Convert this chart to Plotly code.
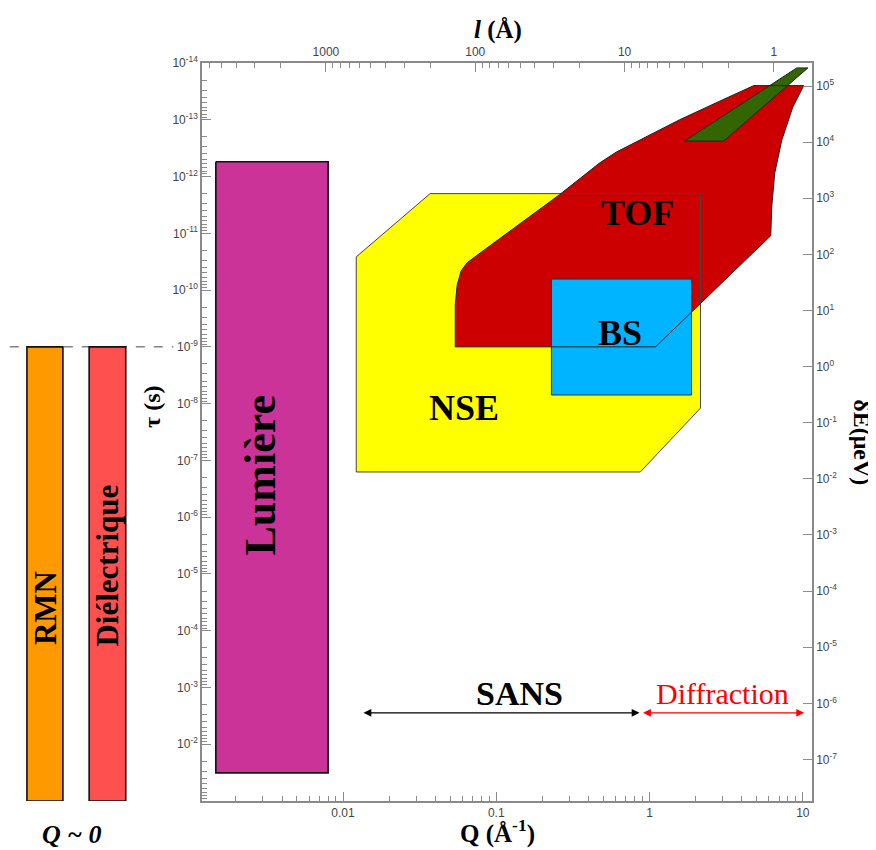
import numpy as np
import plotly.graph_objects as go

# ---------------- axis ticks ----------------
q_ticks = [0.01, 0.1, 1, 10]
q_tick_labels = ["0.01", "0.1", "1", "10"]
tau_exponents = list(range(-14, -1))
tau_ticks = [10.0 ** k for k in tau_exponents]
tau_tick_labels = [f"10<sup>{k}</sup>" for k in tau_exponents]
l_ticks = [1000, 100, 10, 1]
l_tick_labels = ["1000", "100", "10", "1"]
dE_exponents = list(range(-7, 6))
dE_ticks = [10.0 ** k for k in dE_exponents]
dE_tick_labels = [f"10<sup>{k}</sup>" for k in dE_exponents]

# ---------------- technique domains (Q in 1/Å, tau in s) ----------------
lumiere_q = [0.00148, 0.0080]
lumiere_tau = [5.5e-13, 3.2e-2]

nse_q = [0.0122, 0.037, 2.15, 2.15, 0.87, 0.0122]
nse_tau = [2.6e-11, 2.0e-12, 2.0e-12, 1.2e-8, 1.6e-7, 1.6e-7]

tof_q = [0.054, 0.054, 0.0556, 0.059, 0.0646, 0.074, 0.258, 0.471, 0.608,
         0.861, 1.57, 2.87, 4.79, 10.15, 8.6, 7.29, 6.56, 6.27, 6.18, 1.094]
tof_tau = [1.0e-9, 1.83e-10, 8.15e-11, 4.6e-11, 3.3e-11, 2.5e-11, 2.1e-12, 5.8e-13, 3.7e-13,
           2.3e-13, 1.0e-13, 4.7e-14, 2.5e-14, 2.5e-14, 6.0e-14, 2.3e-13, 8.7e-13, 3.4e-12, 1.1e-11, 1.0e-9]

green_q = [1.69, 3.05, 10.8, 9.14]
green_tau = [2.37e-13, 2.37e-13, 1.22e-14, 1.22e-14]

bs_q = [0.229, 1.88]
bs_tau = [6.4e-11, 7.05e-9]

# Q ~ 0 techniques
qzero_labels = ["RMN", "Diélectrique"]
qzero_tau_min = [1e-9, 1e-9]
qzero_tau_max = [1e-1, 1e-1]
qzero_colors = ["#FF9900", "#FF5050"]

# range arrows
sans_q = [0.0133, 0.86]
diffraction_q = [0.887, 10.2]
arrow_tau = 2.8e-3

# ---------------- figure ----------------
fig = go.Figure()


def rect(q, t):
    return [q[0], q[1], q[1], q[0], q[0]], [t[0], t[0], t[1], t[1], t[0]]


def closed(q, t):
    return list(q) + [q[0]], list(t) + [t[0]]


def fill_trace(x, y, color, line_color=None, width=0):
    return go.Scatter(x=x, y=y, mode="lines", fill="toself", fillcolor=color,
                      line=dict(color=line_color or color, width=width),
                      hoverinfo="skip", showlegend=False)


def outline(x, y, color="#333333", width=1):
    return go.Scatter(x=x, y=y, mode="lines", line=dict(color=color, width=width),
                      hoverinfo="skip", showlegend=False)


lx, ly = rect(lumiere_q, lumiere_tau)
fig.add_trace(fill_trace(lx, ly, "#CC3399", "#111111", 1.6))

nx, ny = closed(nse_q, nse_tau)
tx, ty = closed(tof_q, tof_tau)
gx, gy = closed(green_q, green_tau)
bx, by = rect(bs_q, bs_tau)

fig.add_trace(fill_trace(nx, ny, "#FFFF00"))
fig.add_trace(fill_trace(tx, ty, "#CC0000"))
fig.add_trace(fill_trace(gx, gy, "#336600"))
fig.add_trace(fill_trace(bx, by, "#00B4FF"))
fig.add_trace(outline(nx, ny, "#444444", 1))
fig.add_trace(outline(tx, ty, "#222222", 1))
fig.add_trace(outline(gx, gy, "#222222", 1))
fig.add_trace(outline(bx, by, "#333333", 1))

# dummy trace to activate the secondary axes
fig.add_trace(go.Scatter(x=[10], y=[1], xaxis="x2", yaxis="y2", mode="markers",
                         marker=dict(size=1, opacity=0), hoverinfo="skip", showlegend=False))

# Q ~ 0 bars (outside the Q axis)
bar_x = [(-0.287, -0.228), (-0.185, -0.125)]
shapes = []
for (x0, x1), t0, t1, col in zip(bar_x, qzero_tau_min, qzero_tau_max, qzero_colors):
    shapes.append(dict(type="rect", xref="paper", yref="y", x0=x0, x1=x1, y0=t0, y1=t1,
                       fillcolor=col, line=dict(color="#111111", width=1.6), layer="above"))
shapes.append(dict(type="line", xref="paper", yref="y", x0=-0.315, x1=-0.047,
                   y0=qzero_tau_min[0], y1=qzero_tau_min[0],
                   line=dict(color="#444444", width=1, dash="dash"), layer="below"))

serif = "Liberation Serif"
annotations = []


def data_text(text, q, t, size=36, color="black", bold=True, angle=0):
    annotations.append(dict(x=np.log10(q), y=np.log10(t), xref="x", yref="y",
                            xanchor="center", yanchor="middle",
                            text=(f"<b>{text}</b>" if bold else text), showarrow=False,
                            textangle=angle, font=dict(family=serif, size=size, color=color)))


data_text("TOF", 0.83, 4.4e-12)
data_text("BS", 0.64, 5.7e-10)
data_text("NSE", 0.062, 1.2e-8)
data_text("Lumière", 0.0029, 1.8e-7, size=44, angle=-90)
data_text("SANS", 0.141, 1.26e-3, size=34)
data_text("Diffraction", 3.0, 1.3e-3, size=30, color="#FF0000", bold=False)

# rotated labels for Q ~ 0 bars
for (x0, x1), lab, yc in zip(bar_x, qzero_labels, [4.0e-5, 7.0e-6]):
    annotations.append(dict(x=(x0 + x1) / 2, y=np.log10(yc), xref="paper", yref="y",
                            xanchor="center", yanchor="middle",
                            text=f"<b>{lab}</b>", showarrow=False, textangle=-90,
                            font=dict(family=serif, size=31, color="black")))

# range arrows
for qr, col in [(sans_q, "#000000"), (diffraction_q, "#FF0000")]:
    annotations.append(dict(x=np.log10(qr[1]), y=np.log10(arrow_tau), ax=np.log10(qr[0]),
                            ay=np.log10(arrow_tau), xref="x", yref="y", axref="x", ayref="y",
                            text="", showarrow=True, arrowhead=2, startarrowhead=2,
                            arrowside="end+start", arrowsize=1.2, startarrowsize=1.2,
                            arrowwidth=1.3, arrowcolor=col, standoff=0, startstandoff=0))


def paper_text(text, x, y, size, angle=0):
    annotations.append(dict(x=x, y=y, xref="paper", yref="paper", xanchor="center",
                            yanchor="middle", text=text, textangle=angle, showarrow=False,
                            font=dict(family=serif, size=size, color="black")))


# axis titles
paper_text("<b>Q (Å<sup>-1</sup>)</b>", 0.485, -0.042, 25)
paper_text("<b><i>l</i> (Å)</b>", 0.485, 1.045, 25)
paper_text("<b>τ (s)</b>", -0.082, 0.534, 24, -90)
paper_text("<b>δE(μeV)</b>", 1.082, 0.486, 24, 90)
paper_text("<b><i>Q ~ 0</i></b>", -0.213, -0.046, 26)

axis_common = dict(type="log", showgrid=False, zeroline=False, showline=True,
                   linecolor="#8a8a8a", linewidth=1.5, ticks="inside", ticklen=9,
                   tickwidth=1, tickcolor="#8a8a8a",
                   tickfont=dict(family="Liberation Sans", size=12, color="#444444"))

q_minor = [m * 10.0 ** k for k in range(-3, 1) for m in range(2, 10)]
tau_minor = [m * 10.0 ** k for k in range(-14, -1) for m in range(2, 10)]
l_minor = [m * 10.0 ** k for k in range(0, 4) for m in range(2, 10)]

# the page body adds an 8 px offset, so the figure is shrunk by 8 px on each side
fig.update_layout(
    width=868, height=842,
    margin=dict(l=194, r=64, t=55, b=49),
    plot_bgcolor="white", paper_bgcolor="white",
    showlegend=False,
    xaxis=dict(axis_common, range=[-2.92, 1.06], tickmode="array", tickvals=q_ticks,
               ticktext=q_tick_labels,
               minor=dict(tickmode="array", tickvals=q_minor, ticks="inside", ticklen=5,
                          tickcolor="#8a8a8a")),
    yaxis=dict(axis_common, range=[-1, -14], tickmode="array", tickvals=tau_ticks,
               ticktext=tau_tick_labels,
               minor=dict(tickmode="array", tickvals=tau_minor, ticks="inside", ticklen=5,
                          tickcolor="#8a8a8a")),
    xaxis2=dict(axis_common, overlaying="x", side="top", anchor="y", range=[3.83, -0.255],
                tickmode="array", tickvals=l_ticks, ticktext=l_tick_labels,
                minor=dict(tickmode="array", tickvals=l_minor, ticks="inside", ticklen=5,
                           tickcolor="#8a8a8a")),
    yaxis2=dict(axis_common, overlaying="y", side="right", anchor="x", range=[-7.74, 5.41],
                tickmode="array", tickvals=dE_ticks, ticktext=dE_tick_labels),
    shapes=shapes,
    annotations=annotations,
)

fig.write_html("out.html")
